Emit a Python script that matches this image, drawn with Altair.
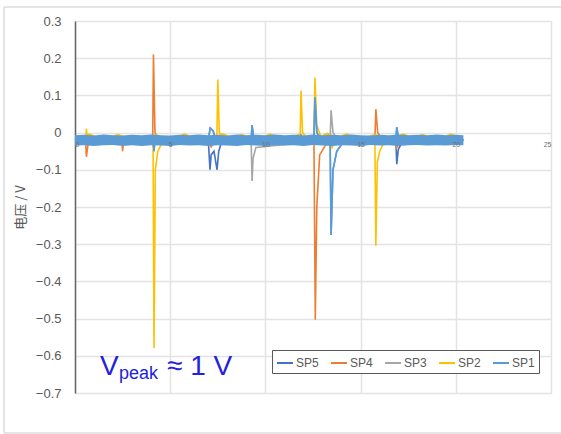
import altair as alt
import pandas as pd

series_names = ["SP5", "SP4", "SP3", "SP2", "SP1"]
series_colors = ["#4472C4", "#ED7D31", "#A5A5A5", "#FFC000", "#5B9BD5"]

sp5_x = [0, 7.0, 7.09, 7.15, 7.3, 7.46, 7.55, 7.7, 16.85, 16.9, 16.98, 17.2, 20.4]
sp5_y = [-0.02, -0.02, -0.10, -0.06, -0.05, -0.10, -0.05, -0.025, -0.02, -0.085, -0.045, -0.025, -0.02]

sp4_x = [0, 0.55, 0.6, 0.7, 2.45, 2.5, 2.55, 4.08, 4.12, 4.2, 4.35, 7.1, 7.15, 7.3,
         12.55, 12.62, 12.7, 12.85, 13.2, 15.75, 15.8, 15.9, 16.1, 16.85, 16.9, 17.1, 20.4]
sp4_y = [-0.02, -0.02, -0.065, -0.025, -0.02, -0.05, -0.02, -0.02, 0.21, 0.0, -0.015, -0.02, -0.04, -0.02,
         -0.02, -0.503, -0.2, -0.06, -0.03, -0.02, 0.063, 0.0, -0.015, -0.02, -0.04, -0.02, -0.02]

sp3_x = [0, 9.25, 9.3, 9.35, 9.5, 13.4, 13.45, 13.55, 13.8, 20.4]
sp3_y = [-0.02, -0.02, -0.13, -0.07, -0.04, -0.02, 0.06, 0.0, -0.02, -0.02]

sp2_x = [0, 0.55, 0.6, 0.65, 4.1, 4.15, 4.22, 4.35, 4.6, 7.45, 7.5, 7.58, 7.8,
         11.82, 11.87, 11.95, 12.2, 12.55, 12.6, 12.7, 12.9, 13.4, 13.5, 13.7,
         15.75, 15.8, 15.88, 16.0, 16.3, 20.4]
sp2_y = [-0.02, -0.02, 0.01, -0.02, -0.02, -0.58, -0.1, -0.05, -0.025, -0.02, 0.143, 0.0, -0.015,
         -0.02, 0.113, 0.0, -0.015, -0.02, 0.148, 0.02, -0.01, -0.02, -0.04, -0.02,
         -0.02, -0.304, -0.08, -0.05, -0.02, -0.02]

sp1_x = [0, 4.1, 4.15, 4.2, 7.0, 7.1, 7.25, 7.4, 9.25, 9.3, 9.4, 11.82, 11.87, 11.95,
         12.55, 12.6, 12.7, 12.9, 13.4, 13.45, 13.55, 13.75, 14.1, 16.85, 16.9, 17.0, 20.4]
sp1_y = [-0.02, -0.02, -0.05, -0.02, -0.02, 0.012, 0.005, -0.02, -0.02, 0.02, -0.02, -0.02, -0.005, -0.02,
         -0.02, 0.094, 0.0, -0.015, -0.02, -0.275, -0.1, -0.05, -0.025, -0.02, 0.015, -0.02, -0.02]

# noise band of SP1 (light blue) and SP2 (yellow specks)
band_x = [0, 0.5, 1, 1.5, 2, 2.5, 3, 3.5, 4, 4.5, 5, 5.5, 6, 6.5, 7, 7.5, 8, 8.5, 9, 9.5, 10,
          10.5, 11, 11.5, 12, 12.5, 13, 13.5, 14, 14.5, 15, 15.5, 16, 16.5, 17, 17.5, 18, 18.5,
          19, 19.5, 20, 20.4]
band_hi = [-0.007, -0.006, -0.008, -0.005, -0.007, -0.008, -0.006, -0.007, -0.005, -0.007, -0.008,
           -0.006, -0.007, -0.005, -0.007, -0.006, -0.008, -0.005, -0.007, -0.006, -0.007, -0.005,
           -0.007, -0.006, -0.008, -0.005, -0.007, -0.006, -0.007, -0.005, -0.007, -0.008, -0.006,
           -0.007, -0.005, -0.007, -0.006, -0.007, -0.005, -0.007, -0.006, -0.007]
band_lo = [-0.035, -0.034, -0.036, -0.034, -0.033, -0.036, -0.034, -0.036, -0.034, -0.035, -0.036,
           -0.033, -0.035, -0.034, -0.036, -0.034, -0.035, -0.036, -0.033, -0.035, -0.036, -0.034,
           -0.035, -0.034, -0.036, -0.033, -0.035, -0.036, -0.034, -0.035, -0.036, -0.033, -0.035,
           -0.034, -0.036, -0.034, -0.033, -0.035, -0.034, -0.035, -0.033, -0.034]
fringe_x = [0.25, 0.75, 1.25, 1.75, 2.25, 2.75, 3.25, 3.75, 4.25, 4.75, 5.25, 5.75, 6.25, 6.75,
            7.25, 7.75, 8.25, 8.75, 9.25, 9.75, 10.25, 10.75, 11.25, 11.75, 12.25, 12.75, 13.25,
            13.75, 14.25, 14.75, 15.25, 15.75, 16.25, 16.75, 17.25, 17.75, 18.25, 18.75, 19.25,
            19.75, 20.25]
fringe_hi = [-0.012, -0.002, -0.012, -0.012, -0.003, -0.012, -0.012, -0.012, -0.004, -0.012, -0.012,
             -0.002, -0.012, -0.012, -0.012, -0.001, -0.012, -0.003, -0.012, -0.012, -0.002, -0.012,
             -0.012, -0.003, -0.012, -0.012, 0.0, -0.012, -0.002, -0.012, -0.012, -0.003, -0.012,
             -0.012, -0.002, -0.012, -0.003, -0.012, -0.012, -0.002, -0.012]
fringe_lo = [-0.02] * 41

y_ticks = [0.3, 0.2, 0.1, 0.0, -0.1, -0.2, -0.3, -0.4, -0.5, -0.6, -0.7]
x_ticks = [0, 5, 10, 15, 20, 25]

rows = []
for name, xs, ys in [("SP5", sp5_x, sp5_y), ("SP4", sp4_x, sp4_y), ("SP3", sp3_x, sp3_y),
                     ("SP2", sp2_x, sp2_y), ("SP1", sp1_x, sp1_y)]:
    for i, (a, b) in enumerate(zip(xs, ys)):
        rows.append({"series": name, "t": a, "v": b, "k": i})
df = pd.DataFrame(rows)
df_sp1 = df[df.series == "SP1"]
band_df = pd.DataFrame({"t": band_x, "hi": band_hi, "lo": band_lo})
fringe_df = pd.DataFrame({"t": fringe_x, "hi": fringe_hi, "lo": fringe_lo})

xscale = alt.Scale(domain=[0, 25], nice=False, zero=False)
yscale = alt.Scale(domain=[-0.7, 0.3], nice=False, zero=False)
cscale = alt.Scale(domain=series_names, range=series_colors)

xaxis_grid = alt.Axis(values=x_ticks, title=None, grid=True, gridColor="#e3e3e3", gridWidth=1.5,
                      domain=False, ticks=False, labels=False, orient="bottom")
xaxis_labels = alt.Axis(values=x_ticks, title=None, grid=False, domain=False, ticks=False,
                        labelFontSize=7, labelColor="#6e6e6e", labelPadding=7, offset=-260,
                        orient="bottom", zindex=2, labelFont="Liberation Sans", labelOverlap=False)
yaxis = alt.Axis(values=y_ticks, format=".1~f", title="电压 / V", grid=True, gridColor="#e3e3e3",
                 gridWidth=1.5, domain=True, domainColor="#666666", domainWidth=1.5, ticks=False,
                 labelFontSize=13, labelColor="#595959", labelPadding=14, labelFont="Liberation Sans",
                 labelOverlap=False,
                 titleFontSize=13, titleColor="#595959", titleFontWeight="normal", titlePadding=8,
                 titleFont="Noto Sans CJK SC")

legend = alt.Legend(title=None, orient="none", legendX=197, legendY=329, direction="horizontal",
                    symbolType="stroke", symbolSize=256, symbolStrokeWidth=2,
                    labelFontSize=12, labelColor="#595959", labelFont="Liberation Sans",
                    strokeColor="#595959", padding=4, columnPadding=8, labelOffset=2,
                    fillColor="white")

lines = alt.Chart(df).mark_line(strokeWidth=1.6).encode(
    x=alt.X("t:Q", scale=xscale, axis=xaxis_grid),
    y=alt.Y("v:Q", scale=yscale, axis=yaxis),
    color=alt.Color("series:N", scale=cscale, legend=legend, sort=series_names),
    order=alt.Order("k:Q"),
)

fringe = alt.Chart(fringe_df).mark_area(color="#FFC000").encode(
    x=alt.X("t:Q", scale=xscale, axis=None), y=alt.Y("hi:Q", scale=yscale, axis=yaxis), y2="lo:Q")

band = alt.Chart(band_df).mark_area(color="#5B9BD5").encode(
    x=alt.X("t:Q", scale=xscale, axis=None), y=alt.Y("hi:Q", scale=yscale, axis=yaxis), y2="lo:Q")

sp1_line = alt.Chart(df_sp1).mark_line(strokeWidth=1.6).encode(
    x=alt.X("t:Q", scale=xscale, axis=xaxis_labels),
    y=alt.Y("v:Q", scale=yscale, axis=yaxis),
    color=alt.Color("series:N", scale=cscale, legend=legend, sort=series_names),
    order=alt.Order("k:Q"),
)

ann_color = "#2222dd"
t_v = alt.Chart().mark_text(text="V", fontSize=28, font="Liberation Sans", color=ann_color,
                            align="left", baseline="alphabetic").encode(x=alt.value(25), y=alt.value(354))
t_peak = alt.Chart().mark_text(text="peak", fontSize=18, font="Liberation Sans", color=ann_color,
                               align="left", baseline="alphabetic").encode(x=alt.value(44), y=alt.value(358))
t_rest = alt.Chart().mark_text(text="≈ 1 V", fontSize=28, font="Liberation Sans", color=ann_color,
                               align="left", baseline="alphabetic").encode(x=alt.value(92), y=alt.value(354))

frame_top = alt.Chart().mark_rule(color="#dcdcdc", strokeWidth=1.5).encode(
    x=alt.value(-71), x2=alt.value(486), y=alt.value(-14))
frame_left = alt.Chart().mark_rule(color="#dcdcdc", strokeWidth=1.5).encode(
    x=alt.value(-71), y=alt.value(-14), y2=alt.value(412))
frame_bottom = alt.Chart().mark_rule(color="#dcdcdc", strokeWidth=1.5).encode(
    x=alt.value(-71), x2=alt.value(486), y=alt.value(412))

chart = alt.layer(
    lines, fringe, band, sp1_line, t_v, t_peak, t_rest, frame_top, frame_left, frame_bottom
).resolve_axis(
    x="independent"
).properties(
    width=476, height=372,
    autosize=alt.AutoSizeParams(type="none"),
    padding={"left": 75, "top": 21, "right": 10, "bottom": 41},
).configure_view(
    stroke="#666666", strokeWidth=1.5
).configure(background="white")

chart.save("out.html", embed_options={"renderer": "svg", "actions": False})
